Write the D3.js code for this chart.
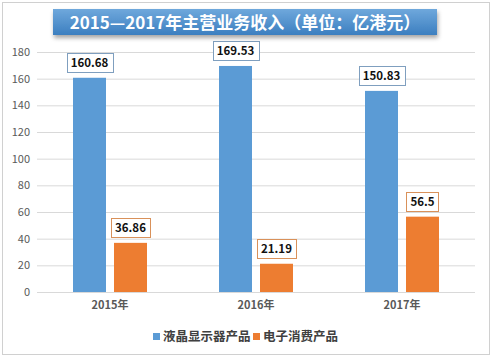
<!DOCTYPE html>
<html><head><meta charset="utf-8">
<script src="https://cdn.jsdelivr.net/npm/d3@7"></script>
<style>body{margin:0;background:#fff}svg{display:block}</style>
</head><body><svg id="c" width="492" height="358"></svg>
<script>
const categories = ["2015年","2016年","2017年"];
const seriesNames = ["液晶显示器产品","电子消费产品"];
const lcd = [160.68,169.53,150.83];
const consumer = [36.86,21.19,56.5];
const yTicks = [0,20,40,60,80,100,120,140,160,180];
const title = "2015—2017年主营业务收入（单位：亿港元）";
const colors = ["#5B9BD5","#ED7D31"];
const boxBorders = ["#7F9FBF","#D9915A"];

const svg = d3.select("#c");
const font = "'Microsoft YaHei','Noto Sans CJK SC',sans-serif";
svg.append("rect").attr("x",2.5).attr("y",2.5).attr("width",487).attr("height",352)
  .attr("fill","#fff").attr("stroke","#D0D0D0");

const x = d3.scaleBand().domain(categories).range([37,475]);
const y = d3.scaleLinear().domain([0,180]).range([292,52]);
const inner = d3.scaleBand().domain([0,1]).range([0,74]);

// gridlines
svg.append("g").selectAll("line").data(yTicks).join("line")
  .attr("x1",37).attr("x2",475).attr("y1",d=>y(d)+0.5).attr("y2",d=>y(d)+0.5)
  .attr("stroke","#D9D9D9");

const yAxis = d3.axisLeft(y).tickValues(yTicks).tickSize(0).tickPadding(7);
const ga = svg.append("g").attr("transform","translate(37,0)").call(yAxis);
ga.select(".domain").remove();
ga.selectAll("text").attr("font-family",font).attr("font-size",11).attr("fill","#595959");

const xAxis = d3.axisBottom(x).tickSize(0).tickPadding(9);
const gx = svg.append("g").attr("transform","translate(0,292)").call(xAxis);
gx.select(".domain").remove();
gx.selectAll("text").attr("font-family",font).attr("font-size",11).attr("font-weight","bold").attr("fill","#595959");

const data = [lcd, consumer];
data.forEach((vals,si)=>{
  const g = svg.append("g");
  const bw = 33;
  vals.forEach((v,i)=>{
    const cx = x(categories[i]) + x.bandwidth()/2 + (si===0?-20.5:20.5);
    g.append("rect").attr("x",cx-bw/2).attr("y",y(v)).attr("width",bw).attr("height",y(0)-y(v))
      .attr("fill",colors[si]);
    const t = g.append("text").attr("x",cx).attr("y",y(v)-11).attr("text-anchor","middle")
      .attr("font-family",font).attr("font-size",11.5).attr("font-weight","bold").attr("fill","#111")
      .text(v);
    const bb = t.node().getBBox();
    g.insert("rect","text").attr("x",Math.round(cx-bb.width/2-4)+0.5).attr("y",Math.round(y(v)-25)+0.5)
      .attr("width",Math.round(bb.width+8)).attr("height",19)
      .attr("fill","#fff").attr("stroke",boxBorders[si]);
  });
});

// legend
const lg = svg.append("g");
const items = [{n:seriesNames[0],c:colors[0],x:153},{n:seriesNames[1],c:colors[1],x:253}];
items.forEach(it=>{
  lg.append("rect").attr("x",it.x).attr("y",333).attr("width",7).attr("height",7).attr("fill",it.c);
  lg.append("text").attr("x",it.x+10).attr("y",341).attr("font-family",font).attr("font-size",12.5)
    .attr("font-weight","bold").attr("fill","#404040").text(it.n);
});

// title
const defs = svg.append("defs");
const grad = defs.append("linearGradient").attr("id","tg").attr("x1",0).attr("y1",0).attr("x2",0).attr("y2",1);
grad.append("stop").attr("offset","0%").attr("stop-color","#6FA8DC");
grad.append("stop").attr("offset","100%").attr("stop-color","#3C7FC0");
const f = defs.append("filter").attr("id","sh").attr("x","-10%").attr("y","-30%").attr("width","120%").attr("height","170%");
f.append("feDropShadow").attr("dx",1).attr("dy",3).attr("stdDeviation",2).attr("flood-color","#000").attr("flood-opacity",0.35);
svg.append("rect").attr("x",53).attr("y",9).attr("width",384).attr("height",26)
  .attr("fill","url(#tg)").attr("filter","url(#sh)");
svg.append("text").attr("x",245).attr("y",29).attr("text-anchor","middle")
  .attr("font-family",font).attr("font-size",17).attr("font-weight","bold").attr("fill","#fff").text(title);
</script></body></html>
